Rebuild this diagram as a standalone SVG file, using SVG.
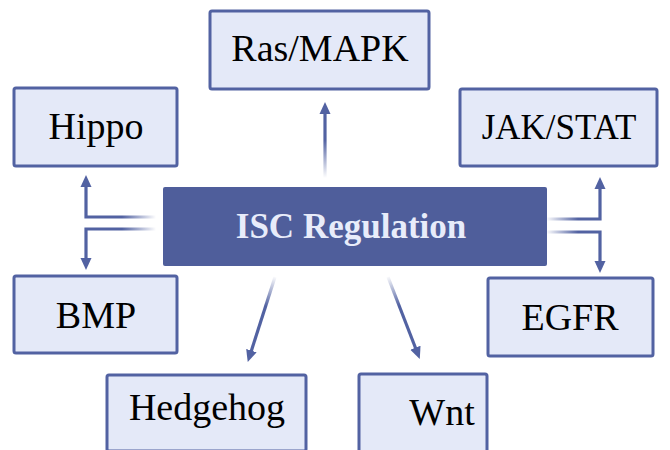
<svg xmlns="http://www.w3.org/2000/svg" width="670" height="450" viewBox="0 0 670 450" font-family="Liberation Serif">
<style>
.node{fill:#e4e9f8;stroke:#5262a2;stroke-width:3}
.tx{font-size:38px;fill:#000000;text-anchor:middle}
.conn{fill:none;stroke-width:3.2}
</style>
<defs>
<marker id="ah" viewBox="0 0 12 12" markerWidth="12" markerHeight="12" refX="3" refY="6" orient="auto" markerUnits="userSpaceOnUse">
<path d="M0,0.5 L12,6 L0,11.5 z" fill="#5262a2"/>
</marker>
<linearGradient id="gUp" gradientUnits="userSpaceOnUse" x1="0" y1="178" x2="0" y2="140"><stop offset="0" stop-color="#5262a2" stop-opacity="0"/><stop offset="1" stop-color="#5262a2"/></linearGradient>
<linearGradient id="gL" gradientUnits="userSpaceOnUse" x1="156" y1="0" x2="122" y2="0"><stop offset="0" stop-color="#5262a2" stop-opacity="0"/><stop offset="1" stop-color="#5262a2"/></linearGradient>
<linearGradient id="gR" gradientUnits="userSpaceOnUse" x1="546" y1="0" x2="578" y2="0"><stop offset="0" stop-color="#5262a2" stop-opacity="0"/><stop offset="1" stop-color="#5262a2"/></linearGradient>
<linearGradient id="gHh" gradientUnits="userSpaceOnUse" x1="275" y1="276" x2="265" y2="306"><stop offset="0" stop-color="#5262a2" stop-opacity="0"/><stop offset="1" stop-color="#5262a2"/></linearGradient>
<linearGradient id="gWnt" gradientUnits="userSpaceOnUse" x1="387" y1="276" x2="398" y2="306"><stop offset="0" stop-color="#5262a2" stop-opacity="0"/><stop offset="1" stop-color="#5262a2"/></linearGradient>
</defs>
<rect width="670" height="450" fill="#ffffff"/>
<g id="connectors">
<path class="conn" stroke="url(#gUp)" d="M325,178 L325,111" marker-end="url(#ah)"/>
<path class="conn" stroke="url(#gL)" d="M156,217 L86,217 L86,184" marker-end="url(#ah)"/>
<path class="conn" stroke="url(#gL)" d="M156,229 L86,229 L86,261" marker-end="url(#ah)"/>
<path class="conn" stroke="url(#gR)" d="M546,219 L600,219 L600,186" marker-end="url(#ah)"/>
<path class="conn" stroke="url(#gR)" d="M546,232 L600,232 L600,264" marker-end="url(#ah)"/>
<path class="conn" stroke="url(#gHh)" d="M275,277 L250.5,353.5" marker-end="url(#ah)"/>
<path class="conn" stroke="url(#gWnt)" d="M388,277 L416.5,350.5" marker-end="url(#ah)"/>
</g>
<g id="center">
<rect x="163" y="187" width="384" height="79" rx="2" fill="#4f5e9b"/>
<text x="351" y="238" font-size="35" font-weight="bold" fill="#e8ecfa" text-anchor="middle">ISC Regulation</text>
</g>
<g id="ras">
<rect class="node" x="210" y="11" width="219" height="78" rx="2"/>
<text class="tx" x="320" y="61">Ras/MAPK</text>
</g>
<g id="hippo">
<rect class="node" x="14" y="88" width="163" height="78" rx="2"/>
<text class="tx" x="96" y="139">Hippo</text>
</g>
<g id="jakstat">
<rect class="node" x="460" y="89" width="197" height="77" rx="2"/>
<text class="tx" x="559" y="139" style="font-size:35px">JAK/STAT</text>
</g>
<g id="bmp">
<rect class="node" x="14" y="276" width="163" height="77" rx="2"/>
<text class="tx" x="96" y="328">BMP</text>
</g>
<g id="egfr">
<rect class="node" x="488" y="278" width="165" height="78" rx="2"/>
<text class="tx" x="570" y="330">EGFR</text>
</g>
<g id="hedgehog">
<rect class="node" x="107" y="375" width="199" height="76" rx="2"/>
<text class="tx" x="207" y="420">Hedgehog</text>
</g>
<g id="wnt">
<rect class="node" x="359" y="374" width="128" height="78" rx="2"/>
<text class="tx" x="442" y="425">Wnt</text>
</g>
</svg>
